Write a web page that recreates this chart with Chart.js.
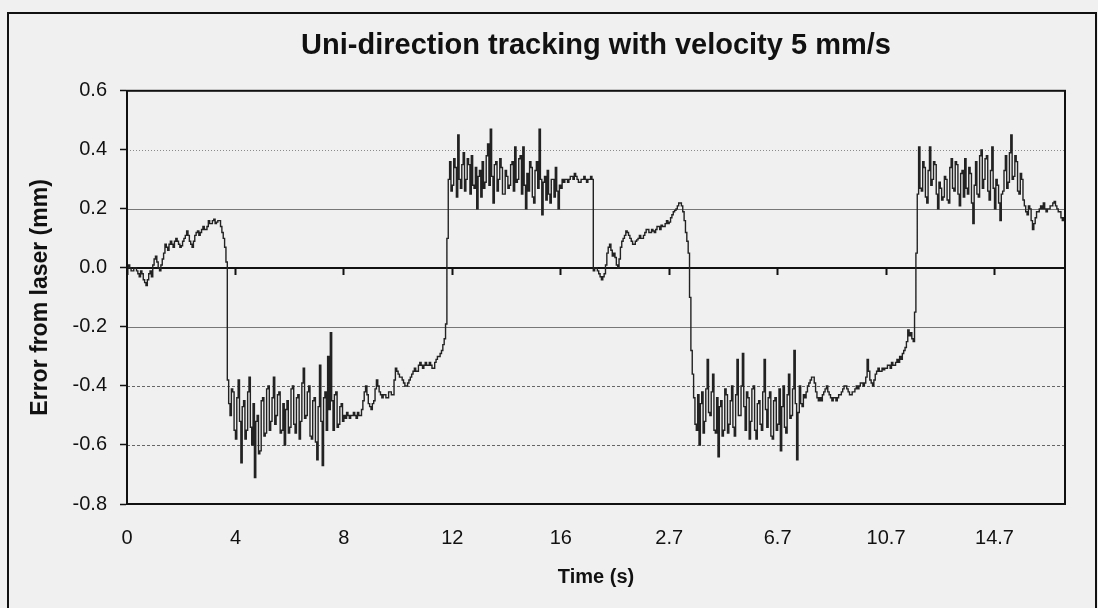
<!DOCTYPE html>
<html>
<head>
<meta charset="utf-8">
<script src="https://cdn.jsdelivr.net/npm/chart.js@4"></script>
<style>
  html, body { margin: 0; padding: 0; background: #f0f0f0; }
  #frame { position: absolute; left: 7px; top: 12px; width: 1090px; height: 620px; box-sizing: border-box; border: 2px solid #111; }
  #wrap { position: absolute; left: 0; top: 0; width: 1098px; height: 608px; }
</style>
</head>
<body>
<div id="frame"></div>
<div id="wrap"><canvas id="trackChart" width="1098" height="608"></canvas></div>
<script>
// tick labels of the time axis (second pass restarts its clock)
var timeLabels = ['0', '4', '8', '12', '16', '2.7', '6.7', '10.7', '14.7'];
var sampleStep = 0.05; // s between samples on the axis

// error (mm), first pass
var pass1Error = [
  0.00, 0.01, 0.00, -0.01, -0.01, 0.00, 0.00, -0.01, -0.02, -0.03,
  -0.01, -0.02, -0.04, -0.05, -0.06, -0.04, -0.02, -0.01, -0.03, 0.01,
  0.03, 0.04, 0.02, 0.00, -0.01, 0.01, 0.03, 0.05, 0.08, 0.07,
  0.06, 0.08, 0.09, 0.08, 0.07, 0.09, 0.10, 0.09, 0.08, 0.07,
  0.075, 0.09, 0.10, 0.11, 0.125, 0.11, 0.09, 0.08, 0.07, 0.09,
  0.11, 0.12, 0.125, 0.11, 0.12, 0.13, 0.14, 0.13, 0.13, 0.14,
  0.16, 0.15, 0.15, 0.16, 0.165, 0.15, 0.155, 0.16, 0.16, 0.14,
  0.12, 0.10, 0.07, 0.02,
  -0.38, -0.46, -0.50, -0.41, -0.42, -0.55, -0.58, -0.44, -0.38, -0.52,
  -0.66, -0.47, -0.45, -0.58, -0.55, -0.42, -0.37, -0.54, -0.60, -0.46,
  -0.71, -0.52, -0.50, -0.63, -0.62, -0.45, -0.44, -0.57, -0.56, -0.41,
  -0.40, -0.55, -0.52, -0.44, -0.37, -0.53, -0.50, -0.43, -0.42, -0.56,
  -0.55, -0.46, -0.60, -0.48, -0.45, -0.56, -0.54, -0.41, -0.40, -0.53,
  -0.56, -0.44, -0.43, -0.58, -0.52, -0.39, -0.34, -0.51, -0.50, -0.42,
  -0.40, -0.57, -0.58, -0.45, -0.44, -0.59, -0.65, -0.47, -0.33, -0.52,
  -0.67, -0.44, -0.42, -0.55, -0.30, -0.48, -0.22, -0.45, -0.55, -0.43,
  -0.42, -0.54, -0.53, -0.47, -0.46, -0.52,
  -0.50, -0.51, -0.49, -0.50, -0.51, -0.50, -0.50, -0.49, -0.50, -0.51,
  -0.49, -0.50, -0.50, -0.48, -0.45, -0.42, -0.40, -0.43, -0.46, -0.47,
  -0.48, -0.46, -0.45, -0.41, -0.38, -0.40, -0.42, -0.43, -0.44, -0.43,
  -0.43, -0.44, -0.44, -0.42, -0.42, -0.43, -0.43, -0.38, -0.34, -0.35,
  -0.36, -0.37, -0.37, -0.38, -0.39, -0.40, -0.40, -0.39, -0.38, -0.37,
  -0.36, -0.35, -0.34, -0.35, -0.35, -0.33, -0.32, -0.33, -0.34, -0.33,
  -0.32, -0.33, -0.33, -0.32, -0.33, -0.34, -0.34, -0.32, -0.31, -0.30,
  -0.30, -0.29, -0.28, -0.26, -0.24, -0.19, 0.10, 0.30,
  0.36, 0.26, 0.28, 0.37, 0.34, 0.24, 0.45, 0.30, 0.27, 0.35,
  0.39, 0.26, 0.30, 0.37, 0.35, 0.25, 0.38, 0.28, 0.27, 0.34,
  0.20, 0.31, 0.33, 0.24, 0.36, 0.27, 0.29, 0.38, 0.42, 0.28,
  0.47, 0.31, 0.22, 0.35, 0.36, 0.26, 0.30, 0.37, 0.34, 0.25,
  0.25, 0.33, 0.31, 0.27, 0.28, 0.35, 0.36, 0.26, 0.41, 0.29,
  0.30, 0.37, 0.38, 0.25, 0.41, 0.28, 0.20, 0.32, 0.26, 0.36,
  0.34, 0.24, 0.22, 0.33, 0.36, 0.27, 0.47, 0.30, 0.18, 0.29,
  0.31, 0.23, 0.33, 0.25, 0.22, 0.30, 0.30, 0.24, 0.34, 0.26,
  0.20, 0.28, 0.27, 0.30,
  0.29, 0.30, 0.30, 0.29, 0.30, 0.31, 0.31, 0.30, 0.32, 0.31,
  0.30, 0.29, 0.29, 0.30, 0.30, 0.31, 0.30, 0.29, 0.30, 0.30,
  0.31, 0.30
];

// error (mm), second pass
var pass2Error = [
  -0.01, 0.00, 0.00, -0.01, -0.02, -0.03, -0.04, -0.03, -0.02, 0.01,
  0.05, 0.07, 0.08, 0.06, 0.04, 0.05, 0.035, 0.01, 0.00, 0.03,
  0.07, 0.09, 0.10, 0.11, 0.125, 0.12, 0.11, 0.10, 0.09, 0.08,
  0.08, 0.09, 0.095, 0.10, 0.11, 0.10, 0.10, 0.11, 0.12, 0.13,
  0.13, 0.12, 0.12, 0.13, 0.125, 0.12, 0.13, 0.14, 0.14, 0.13,
  0.145, 0.14, 0.14, 0.15, 0.16, 0.15, 0.155, 0.17, 0.18, 0.19,
  0.195, 0.20, 0.21, 0.22, 0.22, 0.21, 0.19, 0.16, 0.12, 0.09,
  0.05, -0.10,
  -0.28, -0.36, -0.44, -0.53, -0.55, -0.43, -0.60, -0.46, -0.42, -0.56,
  -0.52, -0.41, -0.31, -0.49, -0.50, -0.42, -0.36, -0.55, -0.56, -0.44,
  -0.64, -0.47, -0.45, -0.57, -0.55, -0.41, -0.43, -0.56, -0.53, -0.45,
  -0.40, -0.54, -0.57, -0.43, -0.31, -0.50, -0.50, -0.40, -0.29, -0.47,
  -0.55, -0.42, -0.44, -0.58, -0.52, -0.41, -0.40, -0.55, -0.58, -0.46,
  -0.45, -0.53, -0.55, -0.42, -0.31, -0.48, -0.54, -0.44, -0.42, -0.57,
  -0.58, -0.45, -0.44, -0.55, -0.53, -0.41, -0.62, -0.47, -0.40, -0.54,
  -0.56, -0.43, -0.36, -0.51, -0.50, -0.41, -0.28, -0.46, -0.65, -0.49,
  -0.40, -0.46, -0.47, -0.43, -0.44, -0.42,
  -0.40, -0.39, -0.38, -0.37, -0.37, -0.39, -0.42, -0.44, -0.45, -0.44,
  -0.45, -0.43, -0.42, -0.41, -0.40, -0.42, -0.43, -0.44, -0.45, -0.44,
  -0.44, -0.45, -0.44, -0.43, -0.43, -0.42, -0.41, -0.40, -0.40, -0.41,
  -0.42, -0.43, -0.43, -0.42, -0.42, -0.41, -0.40, -0.41, -0.40, -0.39,
  -0.39, -0.40, -0.39, -0.37, -0.31, -0.35, -0.38, -0.39, -0.40, -0.38,
  -0.36, -0.35, -0.34, -0.35, -0.35, -0.34, -0.345, -0.34, -0.34, -0.33,
  -0.33, -0.34, -0.32, -0.33, -0.33, -0.32, -0.31, -0.32, -0.30, -0.31,
  -0.29, -0.28, -0.27, -0.25, -0.21, -0.23, -0.22, -0.24, -0.25, -0.15,
  0.05, 0.25,
  0.41, 0.27, 0.26, 0.36, 0.34, 0.24, 0.22, 0.33, 0.41, 0.28,
  0.30, 0.36, 0.35, 0.25, 0.20, 0.29, 0.27, 0.23, 0.24, 0.31,
  0.30, 0.23, 0.22, 0.34, 0.37, 0.27, 0.26, 0.36, 0.35, 0.25,
  0.21, 0.32, 0.33, 0.24, 0.37, 0.27, 0.25, 0.34, 0.32, 0.22,
  0.15, 0.28, 0.36, 0.25, 0.24, 0.38, 0.40, 0.27, 0.30, 0.37,
  0.38, 0.26, 0.23, 0.33, 0.41, 0.27, 0.20, 0.30, 0.28, 0.22,
  0.16, 0.25, 0.26, 0.33, 0.38, 0.27, 0.29, 0.39, 0.45, 0.30,
  0.31, 0.38, 0.36, 0.26, 0.25, 0.32, 0.30, 0.23,
  0.21, 0.19, 0.18, 0.21, 0.20, 0.16, 0.13, 0.15, 0.17, 0.19,
  0.19, 0.20, 0.21, 0.20, 0.22, 0.20, 0.19, 0.20, 0.20, 0.21,
  0.21, 0.22, 0.225, 0.21, 0.20, 0.19, 0.19, 0.17, 0.16, 0.17,
  0.16
];

var errorSeries = pass1Error.concat(pass2Error);
var points = errorSeries.map(function(v, i) {
  return { x: Math.round(i * sampleStep * 100) / 100, y: v };
});
var xMax = Math.round((errorSeries.length - 1) * sampleStep * 100) / 100;

// horizontal grid lines, dotted/solid/dashed like the printed chart
var gridLinesPlugin = {
  id: 'gridLines',
  beforeDatasetsDraw: function(chart) {
    var ctx = chart.ctx, area = chart.chartArea, y = chart.scales.y;
    y.ticks.forEach(function(t) {
      var k = Math.round(t.value * 10);
      if (k === 0 || k === 6 || k === -8) return;
      var py = Math.round(y.getPixelForValue(t.value)) + 0.5;
      ctx.save();
      ctx.lineWidth = 1;
      if (k === 4) { ctx.setLineDash([1, 2]); ctx.strokeStyle = '#8a8a8a'; }
      else if (k === 2 || k === -2) { ctx.setLineDash([]); ctx.strokeStyle = '#777'; }
      else { ctx.setLineDash([3, 2]); ctx.strokeStyle = '#666'; }
      ctx.beginPath();
      ctx.moveTo(area.left, py);
      ctx.lineTo(area.right, py);
      ctx.stroke();
      ctx.restore();
    });
  }
};

var plotFramePlugin = {
  id: 'plotFrame',
  afterDraw: function(chart) {
    var ctx = chart.ctx, a = chart.chartArea;
    ctx.save();
    ctx.strokeStyle = '#111';
    ctx.lineWidth = 2;
    ctx.strokeRect(a.left, a.top, a.right - a.left, a.bottom - a.top);
    ctx.restore();
  }
};

var tickFont = { family: "'Liberation Sans', Arial, sans-serif", size: 20, weight: 'normal' };

new Chart(document.getElementById('trackChart').getContext('2d'), {
  type: 'line',
  data: {
    datasets: [{
      label: 'Error from laser',
      data: points,
      xAxisID: 'x',
      yAxisID: 'y',
      borderColor: '#222',
      borderWidth: 1.4,
      pointRadius: 0,
      stepped: true,
      fill: false
    }]
  },
  options: {
    responsive: false,
    animation: false,
    layout: { padding: { left: 10, right: 33, top: 0, bottom: 0 } },
    plugins: {
      legend: { display: false },
      tooltip: { enabled: false },
      title: {
        display: true,
        fullSize: false,
        text: 'Uni-direction tracking with velocity 5 mm/s',
        color: '#111',
        font: { family: "'Liberation Sans', Arial, sans-serif", size: 29, weight: 'bold' },
        padding: { top: 29, bottom: 27 }
      }
    },
    scales: {
      x: {
        type: 'linear',
        position: 'bottom',
        min: 0,
        max: xMax,
        grid: { display: false, drawTicks: false },
        border: { display: false },
        ticks: {
          stepSize: 4,
          includeBounds: false,
          maxRotation: 0,
          autoSkip: false,
          padding: 22,
          color: '#111',
          font: tickFont,
          callback: function(v, i) { return timeLabels[i]; }
        },
        title: {
          display: true, text: 'Time (s)', color: '#111',
          font: { family: "'Liberation Sans', Arial, sans-serif", size: 20, weight: 'bold' },
          padding: { top: 0, bottom: 19 }
        },
        afterFit: function(scale) { scale.height = 104; }
      },
      x0: {
        type: 'linear',
        position: { y: 0 },
        min: 0,
        max: xMax,
        grid: { drawOnChartArea: false, drawTicks: true, tickLength: 6, tickWidth: 2, tickColor: '#111' },
        border: { display: true, width: 2, color: '#111' },
        ticks: { stepSize: 4, includeBounds: false, display: false }
      },
      y: {
        min: -0.8,
        max: 0.6,
        grid: { drawOnChartArea: false, drawTicks: true, tickLength: 7, tickColor: '#111', tickWidth: 1.5 },
        border: { display: true, width: 2, color: '#111' },
        ticks: {
          stepSize: 0.2,
          padding: 13,
          color: '#111',
          font: tickFont,
          callback: function(v) { return Math.abs(v) < 1e-9 ? '0.0' : v.toFixed(1); }
        },
        title: {
          display: true, text: 'Error from laser (mm)', color: '#111',
          font: { family: "'Liberation Sans', Arial, sans-serif", size: 23, weight: 'bold' },
          padding: { top: 17, bottom: 0 }
        },
        afterFit: function(scale) { scale.width = 117; }
      }
    }
  },
  plugins: [gridLinesPlugin, plotFramePlugin]
});
</script>
</body>
</html>
